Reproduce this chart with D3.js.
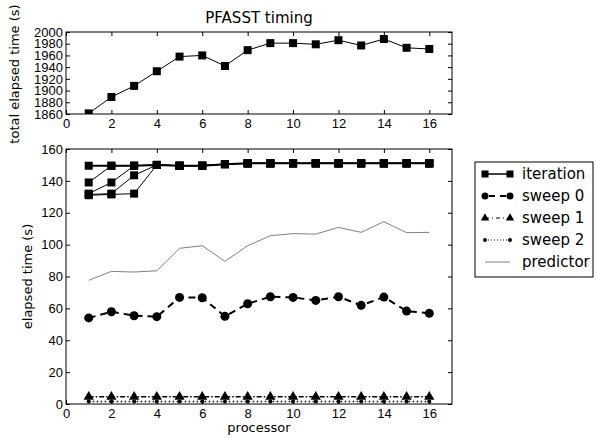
<!DOCTYPE html>
<html>
<head>
<meta charset="utf-8">
<script src="https://cdn.jsdelivr.net/npm/d3@7"></script>
<style>
  body { margin: 0; background: #fff; }
  svg { font-family: "DejaVu Sans", sans-serif; }
</style>
</head>
<body>
<div id="chart"></div>
<script>
//============== data ===============//
const processors = [1, 2, 3, 4, 5, 6, 7, 8, 9, 10, 11, 12, 13, 14, 15, 16];

// top panel: total elapsed time per processor
const totalTime = [1861, 1889, 1908, 1933, 1958, 1960, 1942, 1969, 1981, 1981, 1979, 1986, 1977, 1988, 1973, 1971];

// iteration curves: the first three processors differ, the rest overlap
const iterTail = [150, 149.5, 149.5, 150.5, 151, 151, 151, 151, 151, 151, 151, 151, 151];
const iterHeads = [
  [149.5, 149.5, 149.5],
  [139, 149.5, 149.5],
  [132, 139, 149.5],
  [131.5, 132, 143.5],
  [131, 131.5, 132]
];
const sweep0 = [54, 57.9, 55.4, 54.8, 66.9, 66.7, 55, 62.9, 67.3, 66.9, 65, 67.3, 61.9, 67.1, 58.3, 56.9];
const sweep1 = [4.5, 4.5, 4.5, 4.5, 4.5, 4.5, 4.5, 4.5, 4.5, 4.5, 4.5, 4.5, 4.5, 4.5, 4.5, 4.5];
const sweep2 = [1.5, 1.5, 1.5, 1.5, 1.5, 1.5, 1.5, 1.5, 1.5, 1.5, 1.5, 1.5, 1.5, 1.5, 1.5, 1.5];
const predictor = [77.6, 83.2, 82.8, 83.6, 97.7, 99.3, 89.5, 99.3, 105.6, 106.9, 106.6, 110.8, 107.7, 114.4, 107.5, 107.7];

const xTicks = [0, 2, 4, 6, 8, 10, 12, 14, 16];
const topYTicks = [1860, 1880, 1900, 1920, 1940, 1960, 1980, 2000];
const botYTicks = [0, 20, 40, 60, 80, 100, 120, 140, 160];
const legendNames = ["iteration", "sweep 0", "sweep 1", "sweep 2", "predictor"];

//============== env ===============//
const W = 596, H = 438;
const topBox = {left: 66, top: 32, width: 386, height: 82};
const botBox = {left: 66, top: 149, width: 386, height: 255};

const svg = d3.select("#chart").append("svg")
  .attr("width", W).attr("height", H);

const x = d3.scaleLinear().domain([0, 17]).range([0, topBox.width]);
const yTop = d3.scaleLinear().domain([1860, 2000]).range([topBox.height, 0]);
const yBot = d3.scaleLinear().domain([0, 160]).range([botBox.height, 0]);

// draw a frame with inward ticks on all four sides
function frame(g, box, yScale, yTicks) {
  g.append("g")
    .attr("transform", `translate(0,${box.height})`)
    .call(d3.axisBottom(x).tickValues(xTicks).tickSizeInner(-4).tickSizeOuter(0).tickPadding(5));
  g.append("g")
    .call(d3.axisTop(x).tickValues(xTicks).tickSizeInner(-4).tickSizeOuter(0).tickFormat(""));
  g.append("g")
    .call(d3.axisLeft(yScale).tickValues(yTicks).tickFormat(d3.format("d"))
      .tickSizeInner(-4).tickSizeOuter(0).tickPadding(3));
  g.append("g")
    .attr("transform", `translate(${box.width},0)`)
    .call(d3.axisRight(yScale).tickValues(yTicks).tickSizeInner(-4).tickSizeOuter(0).tickFormat(""));
  g.selectAll(".domain").remove();
  g.selectAll(".tick text").style("font-size", "13px").attr("fill", "#000");
  g.selectAll(".tick line").attr("stroke", "#000");
  g.append("rect")
    .attr("width", box.width).attr("height", box.height)
    .attr("fill", "none").attr("stroke", "#000").attr("stroke-width", 1);
}

function clip(id, box) {
  svg.append("clipPath").attr("id", id)
    .append("rect").attr("width", box.width).attr("height", box.height);
}
clip("clipTop", topBox);
clip("clipBot", botBox);

// ---------- top panel ----------
const gTop = svg.append("g").attr("transform", `translate(${topBox.left},${topBox.top})`);
const topPlot = gTop.append("g").attr("clip-path", "url(#clipTop)");
const topData = processors.map((p, i) => ({p: p, v: totalTime[i]}));
topPlot.append("path")
  .datum(topData)
  .attr("d", d3.line().x(d => x(d.p)).y(d => yTop(d.v)))
  .attr("fill", "none").attr("stroke", "#000").attr("stroke-width", 1);
topPlot.selectAll("rect.pt")
  .data(topData)
  .join("rect")
    .attr("x", d => x(d.p) - 4).attr("y", d => yTop(d.v) - 4)
    .attr("width", 8).attr("height", 8).attr("fill", "#000");
frame(gTop, topBox, yTop, topYTicks);

svg.append("text")
  .attr("x", topBox.left + topBox.width / 2).attr("y", 23)
  .attr("text-anchor", "middle").style("font-size", "15px")
  .text("PFASST timing");
svg.append("text")
  .attr("transform", `translate(19,74) rotate(-90)`)
  .attr("text-anchor", "middle").style("font-size", "13px")
  .text("total elapsed time (s)");

// ---------- bottom panel ----------
const gBot = svg.append("g").attr("transform", `translate(${botBox.left},${botBox.top})`);
const plot = gBot.append("g").attr("clip-path", "url(#clipBot)");
const line = d3.line().x(d => x(d.p)).y(d => yBot(d.v));
const toPts = arr => processors.map((p, i) => ({p: p, v: arr[i]}));

// predictor
plot.append("path").datum(toPts(predictor)).attr("d", line)
  .attr("fill", "none").attr("stroke", "#808080").attr("stroke-width", 1);

// sweep 2 (dotted, small dots)
plot.append("path").datum(toPts(sweep2)).attr("d", line)
  .attr("fill", "none").attr("stroke", "#000").attr("stroke-width", 1.5)
  .attr("stroke-dasharray", "1.5,2.5");
plot.selectAll("circle.s2").data(toPts(sweep2)).join("circle")
  .attr("cx", d => x(d.p)).attr("cy", d => yBot(d.v)).attr("r", 2).attr("fill", "#000");

// sweep 1 (dash-dot, triangles)
plot.append("path").datum(toPts(sweep1)).attr("d", line)
  .attr("fill", "none").attr("stroke", "#000").attr("stroke-width", 1.5)
  .attr("stroke-dasharray", "5,2,1.5,2");
const tri = d3.symbol().type(d3.symbolTriangle).size(45);
plot.selectAll("path.s1").data(toPts(sweep1)).join("path")
  .attr("transform", d => `translate(${x(d.p)},${yBot(d.v)})`)
  .attr("d", tri).attr("fill", "#000");

// sweep 0 (dashed, circles)
plot.append("path").datum(toPts(sweep0)).attr("d", line)
  .attr("fill", "none").attr("stroke", "#000").attr("stroke-width", 2)
  .attr("stroke-dasharray", "7,5");
plot.selectAll("circle.s0").data(toPts(sweep0)).join("circle")
  .attr("cx", d => x(d.p)).attr("cy", d => yBot(d.v)).attr("r", 4.5).attr("fill", "#000");

// iterations
iterHeads.forEach((head, k) => {
  const pts = toPts(head.concat(iterTail));
  plot.append("path").datum(pts).attr("d", line)
    .attr("fill", "none").attr("stroke", "#000").attr("stroke-width", k === 0 ? 2 : 1);
  plot.append("g").selectAll("rect").data(pts).join("rect")
    .attr("x", d => x(d.p) - 4).attr("y", d => yBot(d.v) - 4)
    .attr("width", 8).attr("height", 8).attr("fill", "#000");
});

frame(gBot, botBox, yBot, botYTicks);

svg.append("text")
  .attr("x", botBox.left + botBox.width / 2).attr("y", 432)
  .attr("text-anchor", "middle").style("font-size", "13px")
  .text("processor");
svg.append("text")
  .attr("transform", `translate(32,${botBox.top + botBox.height / 2}) rotate(-90)`)
  .attr("text-anchor", "middle").style("font-size", "13px")
  .text("elapsed time (s)");

// ---------- legend ----------
const leg = svg.append("g").attr("transform", "translate(475,162)");
leg.append("rect").attr("width", 118).attr("height", 115)
  .attr("fill", "#fff").attr("stroke", "#000").attr("stroke-width", 1);
const lx0 = 10, lx1 = 35;
legendNames.forEach((name, i) => {
  const yy = 12 + i * 22;
  const g = leg.append("g").attr("transform", `translate(0,${yy})`);
  const l = g.append("line").attr("x1", lx0).attr("x2", lx1).attr("y1", 0).attr("y2", 0);
  if (name === "iteration") {
    l.attr("stroke", "#000").attr("stroke-width", 1.5);
    [lx0, lx1].forEach(px => g.append("rect").attr("x", px - 3.5).attr("y", -3.5)
      .attr("width", 7).attr("height", 7).attr("fill", "#000"));
  } else if (name === "sweep 0") {
    l.attr("stroke", "#000").attr("stroke-width", 2).attr("stroke-dasharray", "6,5")
      .attr("x1", lx0 + 4).attr("x2", lx1 - 4);
    [lx0, lx1].forEach(px => g.append("circle").attr("cx", px).attr("cy", 0).attr("r", 3.5).attr("fill", "#000"));
  } else if (name === "sweep 1") {
    l.attr("stroke", "#000").attr("stroke-width", 1.2).attr("stroke-dasharray", "4,3,1,3");
    [lx0, lx1].forEach(px => g.append("path").attr("transform", `translate(${px},0)`)
      .attr("d", d3.symbol().type(d3.symbolTriangle).size(30)).attr("fill", "#000"));
  } else if (name === "sweep 2") {
    l.attr("stroke", "#000").attr("stroke-width", 1).attr("stroke-dasharray", "1,2");
    [lx0, lx1].forEach(px => g.append("circle").attr("cx", px).attr("cy", 0).attr("r", 2).attr("fill", "#000"));
  } else {
    l.attr("stroke", "#808080").attr("stroke-width", 1);
  }
  g.append("text").attr("x", 47).attr("y", 5)
    .style("font-size", "15px").text(name);
});
</script>
</body>
</html>
